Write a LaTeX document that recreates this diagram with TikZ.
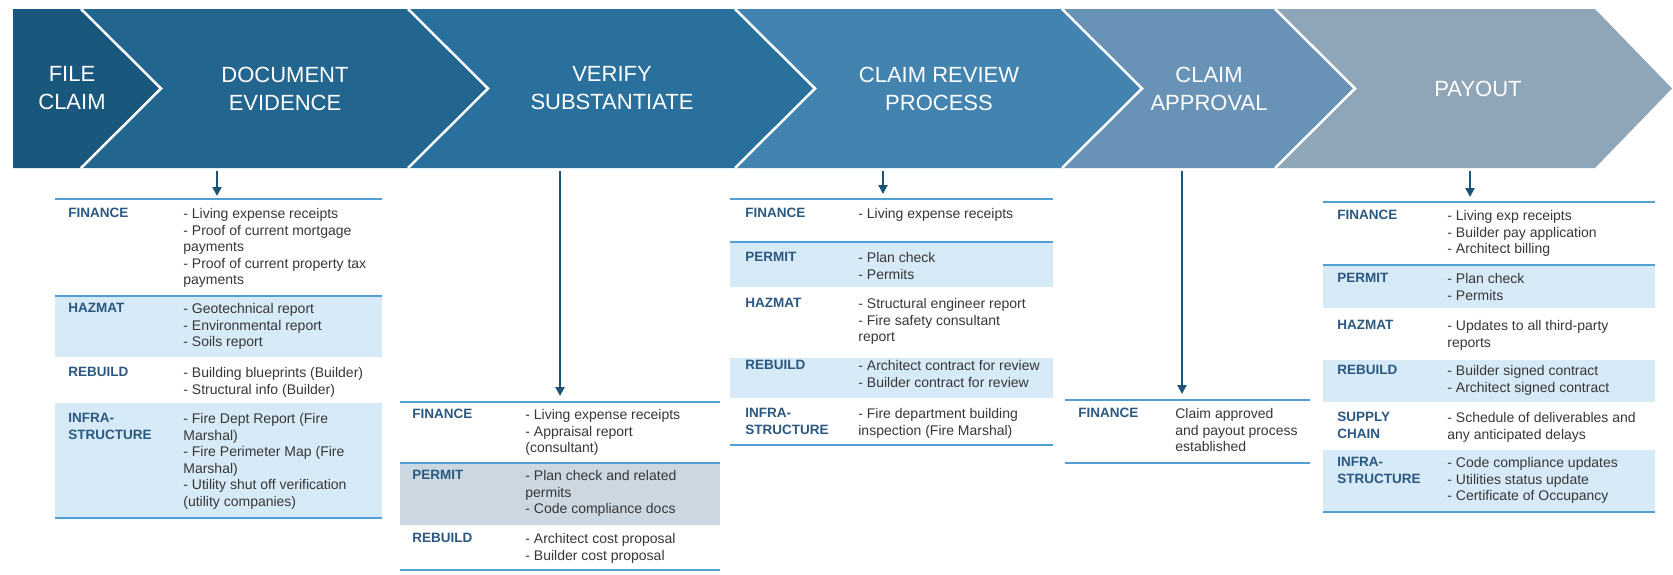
\documentclass[tikz,border=0pt]{standalone}
\usepackage{fontspec}
\setmainfont{Liberation Sans}
\usetikzlibrary{arrows.meta}

\definecolor{stepA}{RGB}{25,87,125}
\definecolor{stepB}{RGB}{34,101,143}
\definecolor{stepC}{RGB}{42,112,156}
\definecolor{stepD}{RGB}{66,131,176}
\definecolor{stepE}{RGB}{104,147,182}
\definecolor{stepF}{RGB}{143,165,184}
\definecolor{rowshade}{RGB}{214,234,247}
\definecolor{rowgrey}{RGB}{203,216,226}
\definecolor{ruleblue}{RGB}{82,160,210}
\definecolor{lblblue}{RGB}{42,88,128}
\definecolor{itmgrey}{RGB}{55,55,55}
\definecolor{arrblue}{RGB}{28,84,120}

\tikzset{every picture/.style={line width=0.75pt}}
\tikzset{
	steptxt/.style={text=white, align=center, font=\fontsize{22}{28}\selectfont},
	chevsep/.style={draw=white, line width=2.5pt, line join=miter},
	tabrule/.style={draw=ruleblue, line width=2pt},
	lbl/.style={anchor=north west, inner sep=0pt, align=left, text=lblblue, font=\bfseries\fontsize{13.5}{16.5}\selectfont},
	itm/.style={anchor=north west, inner sep=0pt, align=left, text=itmgrey, font=\fontsize{14}{16.5}\selectfont},
	dnarrow/.style={draw=arrblue, line width=2pt, -{Triangle[length=9pt,width=9pt]}},
}

\begin{document}
\begin{tikzpicture}[x=1pt,y=1pt,yscale=-1]
				\useasboundingbox (0,0) rectangle (1673,574);
				%Shape: Chevron [file claim]
				\fill [stepA] (13,9) -- (81,9) -- (161,88.5) -- (81,168) -- (13,168) -- cycle ;
				%Shape: Chevron [document evidence]
				\fill [stepB] (81,9) -- (408,9) -- (488,88.5) -- (408,168) -- (81,168) -- (161,88.5) -- cycle ;
				%Shape: Chevron [verify]
				\fill [stepC] (408,9) -- (735,9) -- (815,88.5) -- (735,168) -- (408,168) -- (488,88.5) -- cycle ;
				%Shape: Chevron [claim review]
				\fill [stepD] (735,9) -- (1062,9) -- (1142,88.5) -- (1062,168) -- (735,168) -- (815,88.5) -- cycle ;
				%Shape: Chevron [claim approval]
				\fill [stepE] (1062,9) -- (1275,9) -- (1355,88.5) -- (1275,168) -- (1062,168) -- (1142,88.5) -- cycle ;
				%Shape: Chevron [payout]
				\fill [stepF] (1275,9) -- (1595,9) -- (1672,88.5) -- (1595,168) -- (1275,168) -- (1355,88.5) -- cycle ;
				%Straight Lines [separators]
				\draw [chevsep] (81,9) -- (161,88.5) -- (81,168) ;
				\draw [chevsep] (408,9) -- (488,88.5) -- (408,168) ;
				\draw [chevsep] (735,9) -- (815,88.5) -- (735,168) ;
				\draw [chevsep] (1062,9) -- (1142,88.5) -- (1062,168) ;
				\draw [chevsep] (1275,9) -- (1355,88.5) -- (1275,168) ;
				%Step titles
				\node [steptxt] (st1) at (72,88.5) {FILE\\CLAIM};
				\node [steptxt] (st2) at (285,88.5) {DOCUMENT\\EVIDENCE};
				\node [steptxt] (st3) at (612,88.5) {VERIFY\\SUBSTANTIATE};
				\node [steptxt] (st4) at (939,88.5) {CLAIM REVIEW\\PROCESS};
				\node [steptxt] (st5) at (1209,88.5) {CLAIM\\APPROVAL};
				\node [steptxt] (st6) at (1478,88.5) {PAYOUT};

				%Table 1 [document evidence]
				\fill [rowshade] (55,296) rectangle (382,357) ;
				\fill [rowshade] (55,403) rectangle (382,518) ;
				\draw [tabrule] (55,199) -- (382,199) ;
				\draw [tabrule] (55,296) -- (382,296) ;
				\draw [tabrule] (55,518) -- (382,518) ;
				\node [lbl] (fin1) at (68,208) {FINANCE};
				\node [itm] (fin1t) at (183,208) {- Living expense receipts\\- Proof of current mortgage\\payments\\- Proof of current property tax\\payments};
				\node [lbl] (haz1) at (68,303) {HAZMAT};
				\node [itm] (haz1t) at (183,303) {- Geotechnical report\\- Environmental report\\- Soils report};
				\node [lbl] (reb1) at (68,367) {REBUILD};
				\node [itm] (reb1t) at (183,367) {- Building blueprints (Builder)\\- Structural info (Builder)};
				\node [lbl] (inf1) at (68,413) {INFRA-\\STRUCTURE};
				\node [itm] (inf1t) at (183,413) {- Fire Dept Report (Fire\\Marshal)\\- Fire Perimeter Map (Fire\\Marshal)\\- Utility shut off verification\\(utility companies)};

				%Table 2 [verify]
				\fill [rowgrey] (400,463) rectangle (720,525) ;
				\draw [tabrule] (400,402) -- (720,402) ;
				\draw [tabrule] (400,463) -- (720,463) ;
				\draw [tabrule] (400,570) -- (720,570) ;
				\node [lbl] (fin2) at (412,409) {FINANCE};
				\node [itm] (fin2t) at (525,409) {- Living expense receipts\\- Appraisal report\\(consultant)};
				\node [lbl] (per2) at (412,470) {PERMIT};
				\node [itm] (per2t) at (525,470) {- Plan check and related\\permits\\- Code compliance docs};
				\node [lbl] (reb2) at (412,533) {REBUILD};
				\node [itm] (reb2t) at (525,533) {- Architect cost proposal\\- Builder cost proposal};

				%Table 3 [claim review]
				\fill [rowshade] (730,242) rectangle (1053,287) ;
				\fill [rowshade] (730,358) rectangle (1053,398) ;
				\draw [tabrule] (730,199) -- (1053,199) ;
				\draw [tabrule] (730,242) -- (1053,242) ;
				\draw [tabrule] (730,445) -- (1053,445) ;
				\node [lbl] (fin3) at (745,208) {FINANCE};
				\node [itm] (fin3t) at (858,208) {- Living expense receipts};
				\node [lbl] (per3) at (745,252) {PERMIT};
				\node [itm] (per3t) at (858,252) {- Plan check\\- Permits};
				\node [lbl] (haz3) at (745,298) {HAZMAT};
				\node [itm] (haz3t) at (858,298) {- Structural engineer report\\- Fire safety consultant\\report};
				\node [lbl] (reb3) at (745,360) {REBUILD};
				\node [itm] (reb3t) at (858,360) {- Architect contract for review\\- Builder contract for review};
				\node [lbl] (inf3) at (745,408) {INFRA-\\STRUCTURE};
				\node [itm] (inf3t) at (858,408) {- Fire department building\\inspection (Fire Marshal)};

				%Table 4 [claim approval]
				\draw [tabrule] (1065,400) -- (1310,400) ;
				\draw [tabrule] (1065,463) -- (1310,463) ;
				\node [lbl] (fin4) at (1078,408) {FINANCE};
				\node [itm] (fin4t) at (1175,408) {Claim approved\\and payout process\\established};

				%Table 5 [payout]
				\fill [rowshade] (1323,265) rectangle (1655,308) ;
				\fill [rowshade] (1323,360) rectangle (1655,402) ;
				\fill [rowshade] (1323,450) rectangle (1655,512) ;
				\draw [tabrule] (1323,202) -- (1655,202) ;
				\draw [tabrule] (1323,265) -- (1655,265) ;
				\draw [tabrule] (1323,512) -- (1655,512) ;
				\node [lbl] (fin5) at (1337,210) {FINANCE};
				\node [itm] (fin5t) at (1447,210) {- Living exp receipts\\- Builder pay application\\- Architect billing};
				\node [lbl] (per5) at (1337,273) {PERMIT};
				\node [itm] (per5t) at (1447,273) {- Plan check\\- Permits};
				\node [lbl] (haz5) at (1337,320) {HAZMAT};
				\node [itm] (haz5t) at (1447,320) {- Updates to all third-party\\reports};
				\node [lbl] (reb5) at (1337,365) {REBUILD};
				\node [itm] (reb5t) at (1447,365) {- Builder signed contract\\- Architect signed contract};
				\node [lbl] (sup5) at (1337,412) {SUPPLY\\CHAIN};
				\node [itm] (sup5t) at (1447,412) {- Schedule of deliverables and\\any anticipated delays};
				\node [lbl] (inf5) at (1337,457) {INFRA-\\STRUCTURE};
				\node [itm] (inf5t) at (1447,457) {- Code compliance updates\\- Utilities status update\\- Certificate of Occupancy};

				%Straight Lines [step to table]
				\coordinate (a1) at (217,171);
				\coordinate (t1) at (217,196);
				\coordinate (a2) at (560,171);
				\coordinate (t2) at (560,396);
				\coordinate (a3) at (883,171);
				\coordinate (t3) at (883,194);
				\coordinate (a4) at (1182,171);
				\coordinate (t4) at (1182,394);
				\coordinate (a5) at (1470,171);
				\coordinate (t5) at (1470,197);
				\draw [dnarrow] (a1) -- (t1) ;
				\draw [dnarrow] (a2) -- (t2) ;
				\draw [dnarrow] (a3) -- (t3) ;
				\draw [dnarrow] (a4) -- (t4) ;
				\draw [dnarrow] (a5) -- (t5) ;
\end{tikzpicture}
\end{document}
